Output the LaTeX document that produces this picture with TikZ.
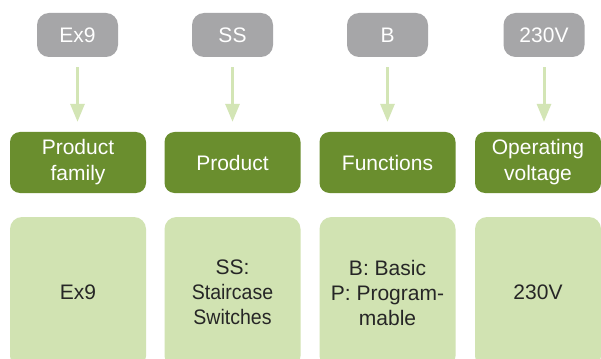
\documentclass[tikz,border=0pt]{standalone}
\usepackage{fontspec}
\usepackage{graphicx}
\setmainfont{Liberation Sans}
\usetikzlibrary{arrows.meta}
\definecolor{codegray}{HTML}{A6A6A8}
\definecolor{darkgrn}{HTML}{6A8E2E}
\definecolor{lightgrn}{HTML}{D1E3B2}
\definecolor{arrowgrn}{HTML}{D3E5B5}
\definecolor{txtdark}{HTML}{262626}
\newcommand{\narrowtxt}[1]{\scalebox{0.93}[1]{#1}}
\begin{document}
\begin{tikzpicture}[x=1pt,y=-1pt,
  codebox/.style={fill=codegray,draw=none,rounded corners=12pt,minimum width=81pt,minimum height=44pt,inner sep=0pt,text=white,font=\fontsize{21}{25}\selectfont},
  catbox/.style={fill=darkgrn,draw=none,rounded corners=10pt,minimum width=136pt,minimum height=61pt,inner sep=0pt,text=white,align=center,font=\fontsize{21}{26}\selectfont},
  valbox/.style={fill=lightgrn,draw=none,rounded corners=12pt,minimum width=136pt,minimum height=151pt,inner sep=0pt,text=txtdark,align=center,font=\fontsize{21}{25}\selectfont},
  conn/.style={draw=arrowgrn,line width=3pt,-{Triangle[width=14pt,length=18pt]},shorten <=10pt,shorten >=10pt}]
\clip (0,0) rectangle (601,358);
\fill[white] (0,0) rectangle (601,358);
% codes
\node[codebox] (c1) at (77.5,35) {Ex9};
\node[codebox] (c2) at (232.5,35) {SS};
\node[codebox] (c3) at (387.5,35) {B};
\node[codebox] (c4) at (544,35) {230V};
% categories
\node[catbox] (k1) at (78,162.5) {Product\\family};
\node[catbox] (k2) at (232.5,162.5) {Product};
\node[catbox] (k3) at (387.5,162.5) {Functions};
\node[catbox,minimum width=126pt] (k4) at (538,162.5) {Operating\\voltage};
% values
\node[valbox] (v1) at (78,292.5) {Ex9};
\node[valbox] (v2) at (232.5,292.5) {SS:\\\narrowtxt{Staircase}\\\narrowtxt{Switches}};
\node[valbox] (v3) at (387.5,292.5) {B: Basic\\P: Program-\\mable};
\node[valbox,minimum width=126pt] (v4) at (538,292.5) {230V};
% connectors
\draw[conn] (c1.south) -- (c1.south |- k1.north);
\draw[conn] (c2.south) -- (c2.south |- k2.north);
\draw[conn] (c3.south) -- (c3.south |- k3.north);
\draw[conn] (c4.south) -- (c4.south |- k4.north);
\end{tikzpicture}
\end{document}
